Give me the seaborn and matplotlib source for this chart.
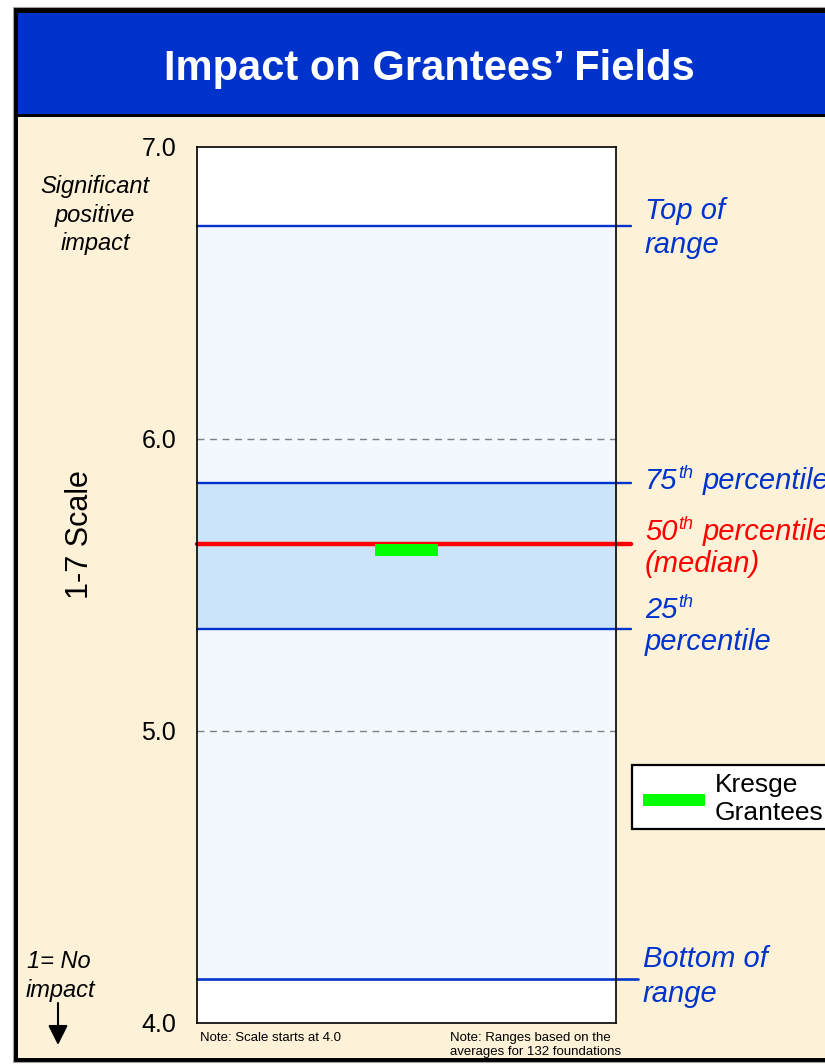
# Impact on Grantees' Fields - range chart with Kresge marker

import matplotlib
matplotlib.use("Agg")
import matplotlib.pyplot as plt
import seaborn as sns
import pandas as pd
from matplotlib.patches import Rectangle, FancyArrowPatch
from matplotlib.lines import Line2D

# ------------------------------------
# Data
# ------------------------------------

range_names = ["Bottom of range", "25th percentile", "Median", "75th percentile", "Top of range"]
range_values = [4.15, 5.35, 5.64, 5.85, 6.73]

kresge_label = "Kresge\nGrantees"
kresge_value = 5.62

y_ticks = [4.0, 5.0, 6.0, 7.0]
y_tick_labels = ["4.0", "5.0", "6.0", "7.0"]
grid_values = [5.0, 6.0]

# ------------------------------------
# Style
# ------------------------------------

sns.set_style("white")
plt.rcParams['font.family'] = ['Liberation Sans', 'DejaVu Sans']
plt.rcParams['text.color'] = 'black'
plt.rcParams['ytick.color'] = 'black'

W, H = 825, 1064
BLUE = '#0033CC'
RED = '#FF0000'
GREEN = '#00FF00'
CREAM = '#FDF2D8'


def fx(x):
    return x / W


def fy(y):
    return 1 - y / H


def ftext(x, y, s, **kw):
    fig.text(fx(x), fy(y), s, va='baseline', **kw)


fig = plt.figure(figsize=(W / 100, H / 100), dpi=100, facecolor='white')

# frame, header and background (behind the axes)
fig.add_artist(Rectangle((fx(13), fy(1062)), fx(830 - 13), (1062 - 7) / H,
                         transform=fig.transFigure, facecolor='black',
                         edgecolor='#A0A0A0', lw=0.8, zorder=-3))
fig.add_artist(Rectangle((fx(18), fy(114)), fx(830 - 18), (114 - 13) / H,
                         transform=fig.transFigure, facecolor=BLUE, lw=0, zorder=-2))
fig.add_artist(Rectangle((fx(18), fy(1058)), fx(830 - 18), (1058 - 117) / H,
                         transform=fig.transFigure, facecolor=CREAM, lw=0, zorder=-2))

ftext(429, 80, "Impact on Grantees\u2019 Fields", ha='center', color='white',
      weight='bold', fontsize=30)

# ------------------------------------
# Chart area
# ------------------------------------

ax = fig.add_axes([fx(197), fy(1023), (616 - 197) / W, (1023 - 147) / H])
ax.set_facecolor('white')

bottom, p25, median, p75, top = range_values

ax.axhspan(bottom, top, color='#F3F7FE', lw=0, zorder=0)
ax.axhspan(p25, p75, color='#CCE4FA', lw=0, zorder=0)

for g in grid_values:
    ax.axhline(g, color='#808080', lw=1, ls=(0, (5, 4)), zorder=1)

# range lines stick out a little past the right edge
ax.axhline(top, xmin=0, xmax=1.036, color=BLUE, lw=1.7, clip_on=False, zorder=2)
ax.axhline(p75, xmin=0, xmax=1.036, color=BLUE, lw=1.7, clip_on=False, zorder=2)
ax.axhline(p25, xmin=0, xmax=1.036, color=BLUE, lw=1.7, clip_on=False, zorder=2)
ax.axhline(bottom, xmin=0, xmax=1.052, color=BLUE, lw=1.9, clip_on=False, zorder=2)
ax.axhline(median, xmin=0, xmax=1.036, color=RED, lw=3.2, clip_on=False, zorder=3)

# Kresge marker
kresge_df = pd.DataFrame({'x': [0.425, 0.575], 'y': [kresge_value, kresge_value]})
sns.lineplot(data=kresge_df, x='x', y='y', color=GREEN, lw=8.6, ax=ax,
             solid_capstyle='butt', zorder=5)

ax.set_xlim(0, 1)
ax.set_ylim(4, 7)
ax.set_xticks([])
ax.set_yticks(y_ticks, y_tick_labels)
ax.tick_params(axis='y', length=0, pad=15, labelsize=18, labelcolor='black')
ax.set_xlabel('')
ax.set_ylabel('')
for s in ax.spines.values():
    s.set_visible(True)
    s.set_color('black')
    s.set_linewidth(1.2)
    s.set_zorder(6)

fig.text(fx(80), fy(535), '1-7 Scale', rotation=90, fontsize=22,
         ha='center', va='center')

# ------------------------------------
# Right side labels
# ------------------------------------

lab = dict(style='italic', fontsize=21)
sup = dict(style='italic', fontsize=13)

ftext(645, 219, 'Top of', color=BLUE, **lab)
ftext(645, 253, 'range', color=BLUE, **lab)

ftext(645, 489, '75', color=BLUE, **lab)
ftext(678, 478, 'th', color=BLUE, **sup)
ftext(703, 489, 'percentile', color=BLUE, **lab)

ftext(645, 540, '50', color=RED, **lab)
ftext(678, 529, 'th', color=RED, **sup)
ftext(703, 540, 'percentile', color=RED, **lab)
ftext(645, 572, '(median)', color=RED, **lab)

ftext(645, 618, '25', color=BLUE, **lab)
ftext(678, 607, 'th', color=BLUE, **sup)
ftext(645, 650, 'percentile', color=BLUE, **lab)

ftext(643, 967, 'Bottom of', color=BLUE, **lab)
ftext(643, 1002, 'range', color=BLUE, **lab)

# ------------------------------------
# Left side labels
# ------------------------------------

ftext(95, 193, 'Significant', ha='center', style='italic', fontsize=17)
ftext(95, 222, 'positive', ha='center', style='italic', fontsize=17)
ftext(95, 250, 'impact', ha='center', style='italic', fontsize=17)

ftext(27, 968, '1= No', style='italic', fontsize=17)
ftext(26, 997, 'impact', style='italic', fontsize=17)

fig.add_artist(FancyArrowPatch((fx(58), fy(1003)), (fx(58), fy(1045)),
                               transform=fig.transFigure,
                               arrowstyle='-|>,head_length=0.6,head_width=0.3',
                               mutation_scale=20, color='black', lw=1.5,
                               shrinkA=0, shrinkB=0))

# ------------------------------------
# Notes
# ------------------------------------

ftext(200, 1041, 'Note: Scale starts at 4.0', fontsize=9.5)
ftext(450, 1041, 'Note: Ranges based on the', fontsize=9.5)
ftext(450, 1055, 'averages for 132 foundations', fontsize=9.5)

# ------------------------------------
# Legend
# ------------------------------------

fig.add_artist(Rectangle((fx(632), fy(829)), fx(832 - 632), (829 - 765) / H,
                         transform=fig.transFigure, facecolor='white',
                         edgecolor='black', lw=1.6))
fig.add_artist(Line2D([fx(643), fx(705)], [fy(800), fy(800)],
                      transform=fig.transFigure, color=GREEN, lw=8.6,
                      solid_capstyle='butt'))
kresge_lines = kresge_label.split('\n')
ftext(715, 792, kresge_lines[0], fontsize=19)
ftext(715, 820, kresge_lines[1], fontsize=19)

fig.savefig('out.png', dpi=100, facecolor=fig.get_facecolor())
